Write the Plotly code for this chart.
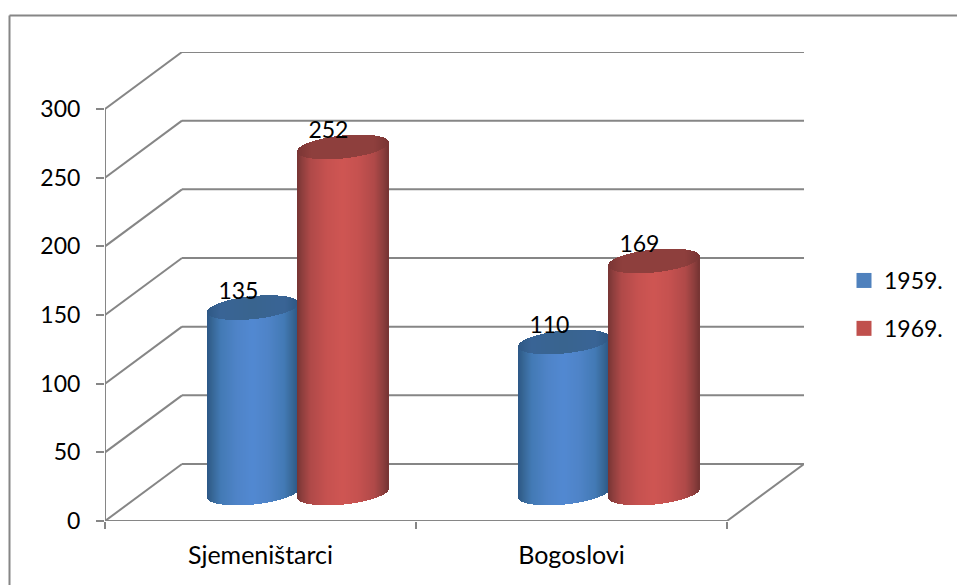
import numpy as np
import plotly.graph_objects as go

categories = ["Sjemeništarci", "Bogoslovi"]
series_names = ["1959.", "1969."]
values_1959 = [135, 110]
values_1969 = [252, 169]
y_ticks = [0, 50, 100, 150, 200, 250, 300]

W, H = 957, 585
PX_L, PX_R, PX_T, PX_B = 105, 804, 52, 521
UX = 311.0                 # pixels per category
UY = (PX_B - 109) / 300.0  # pixels per value unit
DX = 77 / UX               # depth offset in x units
DY = 57 / UY               # depth offset in y units

XMIN, XMAX = -0.5, -0.5 + (PX_R - PX_L) / UX
YMIN, YMAX = 0, (PX_B - PX_T) / UY

GRID = "#868686"
GRID_W = 2
FONT = "Lato"
FS_NUM = 23
FS_CAT = 25

RAMPS = {
    "1959.": dict(body=[(0, "#5289d2"), (.35, "#4f84c8"), (.7, "#437aB5"), (.9, "#366593"), (1, "#2d5786")],
                  cap=[(0, "#39648f"), (.7, "#3a6596"), (1, "#2f5885")], legend="#4f81bd"),
    "1969.": dict(body=[(0, "#cf5653"), (.35, "#c65250"), (.7, "#b04a49"), (.9, "#8c3e3d"), (1, "#763433")],
                  cap=[(0, "#8e3f3d"), (.7, "#8e3f3d"), (1, "#7a3635")], legend="#c0504d"),
}


def ramp(stops, t):
    xs = [s[0] for s in stops]
    rgb = np.array([[int(s[1][i:i + 2], 16) for i in (1, 3, 5)] for s in stops], float)
    return "rgb(%d,%d,%d)" % tuple(np.interp(t, xs, rgb[:, k]) for k in range(3))


A = 45.5 / UX      # ellipse half width in x units
B = 11.5 / UY      # ellipse half height in y units
SHEAR = 4.5 / UY   # rise to the right
BASE = (PX_B - 493) / UY
STRIP = 1.0 / UX

fig = go.Figure()


def cylinder(cx, value, name):
    xs = np.arange(cx - A + STRIP / 2, cx + A, STRIP)
    u = (xs - cx) / A
    sh = SHEAR * u
    arc = B * np.sqrt(np.clip(1 - u ** 2, 0, 1))
    t = np.abs(u)
    r = RAMPS[name]
    body_base = BASE + sh - arc
    top = BASE + value + sh
    fig.add_trace(go.Bar(x=xs, y=top - body_base, base=body_base, width=STRIP * 1.02,
                         marker=dict(color=[ramp(r["body"], v) for v in t], line_width=0),
                         showlegend=False, hoverinfo="skip"))
    fig.add_trace(go.Bar(x=xs, y=2 * arc, base=top - arc, width=STRIP * 1.02,
                         marker=dict(color=[ramp(r["cap"], v) for v in t], line_width=0),
                         showlegend=False, hoverinfo="skip"))


half = 45 / UX
for i, cat in enumerate(categories):
    centre = i + DX / 2 - 0.5 / UX
    cylinder(centre - half, values_1959[i], series_names[0])
    cylinder(centre + half, values_1969[i], series_names[1])

# data labels
label_x, label_y, label_t = [], [], []
for i in range(len(categories)):
    centre = i + DX / 2
    for cx, v in ((centre - half, values_1959[i]), (centre + half, values_1969[i])):
        label_x.append(cx - 0.05)
        label_y.append(BASE + v + 14.5 / UY)
        label_t.append(str(v))
fig.add_trace(go.Scatter(x=label_x, y=label_y, text=label_t, mode="text", textposition="middle center",
                         textfont=dict(family=FONT, size=FS_NUM, color="black"),
                         showlegend=False, hoverinfo="skip", cliponaxis=False))

# legend entries
for n in series_names:
    fig.add_trace(go.Scatter(x=[None], y=[None], mode="markers", name=n, legendgroup=n,
                             marker=dict(symbol="square", size=15, color=RAMPS[n]["legend"])))

shapes = []


def seg(x0, y0, x1, y1):
    shapes.append(dict(type="line", xref="x", yref="y", x0=x0, y0=y0, x1=x1, y1=y1, layer="below",
                       line=dict(color=GRID, width=GRID_W)))


x_left, x_right = -0.5, -0.5 + len(categories)
for v in y_ticks:
    seg(x_left, v, x_left + DX, v + DY)
    seg(x_left + DX, v + DY, x_right + DX, v + DY)
seg(x_left, y_ticks[0], x_right, y_ticks[0])
seg(x_right, y_ticks[0], x_right + DX, y_ticks[0] + DY)
seg(x_left, y_ticks[0], x_left, y_ticks[-1])

# chart frame: only the top and left edges show in the reference
fx = lambda p: (p - PX_L) / (PX_R - PX_L)
fy = lambda p: (PX_B - p) / (PX_B - PX_T)
shapes.append(dict(type="line", xref="paper", yref="paper", x0=fx(9.5), x1=fx(957), y0=fy(15.5), y1=fy(15.5),
                   line=dict(color="#868686", width=2)))
shapes.append(dict(type="line", xref="paper", yref="paper", x0=fx(9.5), x1=fx(9.5), y0=fy(15.5), y1=fy(585),
                   line=dict(color="#868686", width=2)))

fig.update_layout(
    width=W, height=H, autosize=False,
    margin=dict(l=PX_L, r=W - PX_R, t=PX_T, b=H - PX_B, pad=0),
    paper_bgcolor="white", plot_bgcolor="rgba(0,0,0,0)",
    barmode="overlay", bargap=0,
    shapes=shapes,
    font=dict(family=FONT, size=FS_NUM, color="black"),
    xaxis=dict(range=[XMIN, XMAX], tickmode="array", tickvals=list(range(len(categories))), ticktext=categories,
               showgrid=False, zeroline=False, showline=False, ticks="", ticklabelstandoff=17,
               minor=dict(tickmode="array", tickvals=[x_left, 0.5, x_right], ticks="outside", ticklen=7,
                          tickwidth=2, tickcolor=GRID, showgrid=False),
               tickfont=dict(family=FONT, size=FS_CAT, color="black")),
    yaxis=dict(range=[YMIN, YMAX], tickmode="array", tickvals=y_ticks, showgrid=False, zeroline=False,
               showline=False, ticks="outside", ticklen=8, tickwidth=2, tickcolor=GRID,
               tickfont=dict(family=FONT, size=FS_NUM, color="black"), ticklabelstandoff=11),
    legend=dict(xref="container", yref="container", x=844 / W, xanchor="left", y=1 - 259 / H, yanchor="top",
                tracegroupgap=15, font=dict(family=FONT, size=FS_NUM, color="black"),
                bgcolor="rgba(0,0,0,0)", itemclick=False),
)

fig.write_html("out.html", post_script="document.body.style.margin='0';", config={"displayModeBar": False})
